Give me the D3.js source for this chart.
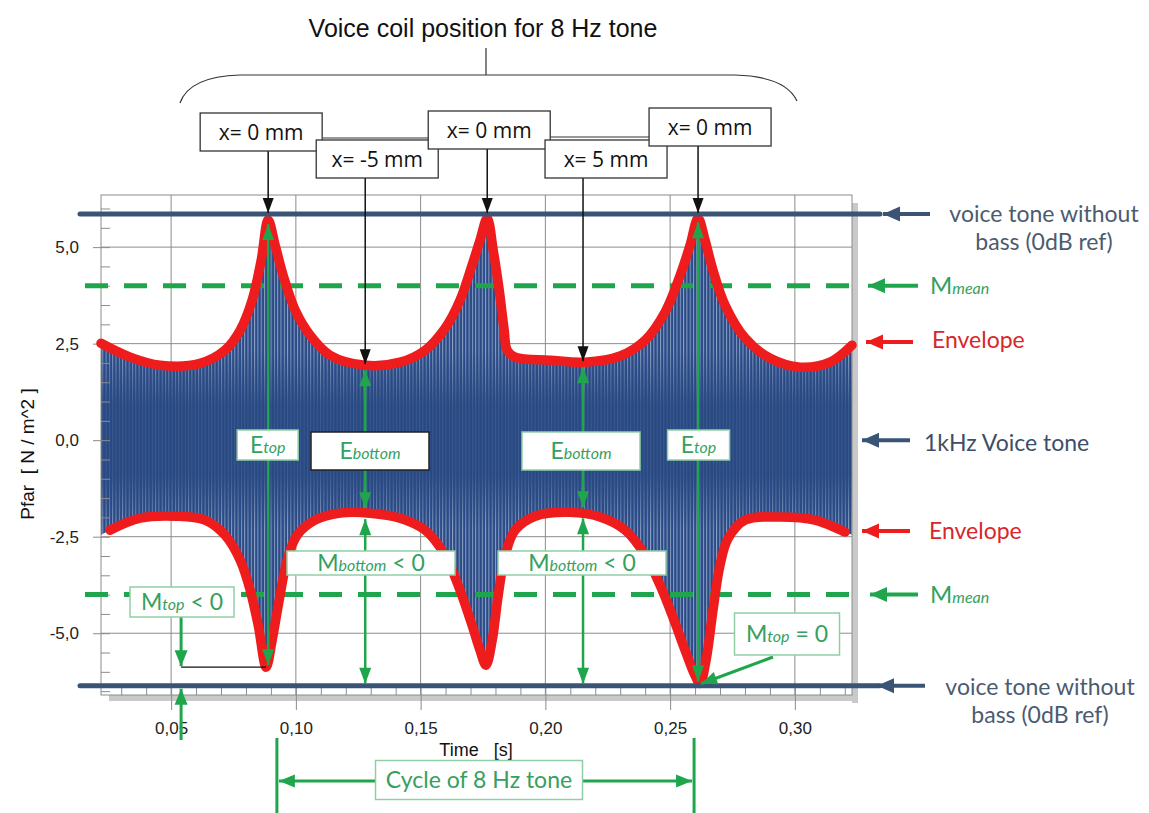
<!DOCTYPE html>
<html>
<head>
<meta charset="utf-8">
<script src="https://cdn.jsdelivr.net/npm/d3@7"></script>
<style>
  body { margin: 0; background: #fff; }
  svg text { font-family: "Liberation Sans", Arial, sans-serif; }
</style>
</head>
<body>
<svg id="chart" width="1149" height="813"></svg>
<script>
// ---- data ----
// upper envelope of the 1 kHz tone (time in s, pressure in N/m^2)
var upperTime = [0.0219, 0.0336, 0.0456, 0.0616, 0.0716, 0.0777, 0.0825, 0.0861, 0.0889, 0.0917, 0.0949, 0.0997,
  0.1057, 0.1137, 0.1278, 0.1418, 0.1518, 0.1598, 0.1658, 0.1706, 0.1738, 0.1767, 0.1791, 0.1815, 0.1835, 0.1847,
  0.1879, 0.2019, 0.2159, 0.2300, 0.2400, 0.2480, 0.2540, 0.2580, 0.2612, 0.2640, 0.2672, 0.2720, 0.2801, 0.2901,
  0.3021, 0.3141, 0.3229];
var upperVal = [2.51, 2.15, 1.94, 1.99, 2.33, 2.85, 3.63, 4.66, 5.70, 5.05, 4.27, 3.37,
  2.72, 2.20, 1.94, 2.02, 2.33, 2.90, 3.63, 4.53, 5.18, 5.75, 4.92, 3.89, 2.85, 2.33,
  2.15, 2.07, 2.02, 2.18, 2.59, 3.32, 4.27, 5.05, 5.75, 5.18, 4.40, 3.50, 2.64, 2.12,
  1.89, 2.02, 2.46];
// lower envelope
var lowerTime = [0.0219, 0.0255, 0.0376, 0.0516, 0.0636, 0.0716, 0.0777, 0.0817, 0.0849, 0.0881, 0.0905, 0.0933,
  0.0965, 0.1005, 0.1077, 0.1177, 0.1298, 0.1418, 0.1518, 0.1598, 0.1658, 0.1706, 0.1738, 0.1762, 0.1787, 0.1811,
  0.1839, 0.1879, 0.1959, 0.2099, 0.2219, 0.2320, 0.2400, 0.2460, 0.2508, 0.2560, 0.2596, 0.2620, 0.2644, 0.2672,
  0.2700, 0.2733, 0.2801, 0.2941, 0.3081, 0.3201, 0.3229];
var lowerVal = [-2.45, -2.33, -2.02, -1.97, -2.07, -2.46, -3.11, -3.89, -4.79, -5.88, -5.18, -4.15,
  -3.11, -2.46, -2.07, -1.89, -1.89, -2.02, -2.33, -2.98, -3.89, -4.79, -5.44, -5.83, -5.18, -4.02,
  -2.98, -2.33, -1.97, -1.87, -1.99, -2.33, -2.98, -3.76, -4.53, -5.44, -6.04, -6.30, -5.70, -4.40,
  -3.24, -2.54, -2.07, -1.99, -2.07, -2.38, -2.45];

var xTicks = [0.05, 0.10, 0.15, 0.20, 0.25, 0.30];
var yTicks = [-5, -2.5, 0, 2.5, 5];

// voice coil positions
var positionTimes = [0.0889, 0.1278, 0.1767, 0.2151, 0.2612];
var positionLabels = ['x= 0 mm', 'x= -5 mm', 'x= 0 mm', 'x= 5 mm', 'x= 0 mm'];
var positionTargets = [5.86, 1.94, 5.86, 2.02, 5.86];

// reference levels
var refLevels = [5.86, -6.36];      // voice tone without bass
var meanLevels = [4.0, -4.0];       // M mean
var eTopSpan = [[5.70, -5.88], [5.75, -6.30]];
var eBottomSpan = [[1.94, -1.89], [2.02, -1.87]];
var cycleTimes = [0.0924, 0.2596];
var mTopTime = 0.054;

// ---- layout ----
var svg = d3.select('#chart');
var pL = 101, pR = 852, pT = 195, pB = 695;

var x = d3.scaleLinear().domain([0.0219, 0.3229]).range([pL, pR]);
var y = d3.scaleLinear().domain([-6.6, 6.35]).range([pB, pT]);

var GREEN = '#1fa64c', GREEN_TXT = '#35a060', RED = '#ee1c1c', NAVY = '#3a5476', BLACK = '#111';

function arrowHead(g, xt, yt, ang, len, w, color) {
  g.append('path')
    .attr('d', 'M0,0 L' + (-len) + ',' + (-w / 2) + ' L' + (-len) + ',' + (w / 2) + ' Z')
    .attr('transform', 'translate(' + xt + ',' + yt + ') rotate(' + ang + ')')
    .attr('fill', color);
}

// line from (x1,y1) to (x2,y2) with a head at the end (and at the start if both)
function arrow(g, x1, y1, x2, y2, o) {
  var ang = Math.atan2(y2 - y1, x2 - x1) * 180 / Math.PI;
  g.append('line')
    .attr('x1', x1).attr('y1', y1).attr('x2', x2).attr('y2', y2)
    .attr('stroke', o.color).attr('stroke-width', o.width);
  arrowHead(g, x2, y2, ang, o.len, o.w, o.color);
  if (o.both) arrowHead(g, x1, y1, ang + 180, o.len, o.w, o.color);
}

// ---- title and brace ----
svg.append('text')
  .attr('x', 483).attr('y', 37)
  .attr('text-anchor', 'middle')
  .style('font-size', '25px')
  .attr('fill', '#111')
  .text('Voice coil position for 8 Hz tone');

svg.append('path')
  .attr('d', 'M180,103 C186,86 204,76 240,75 L735,75 C770,76 790,86 797,101 M486,48 L486,75')
  .attr('fill', 'none').attr('stroke', '#333').attr('stroke-width', 1.2);

// ---- plot frame, shadow and grid ----
svg.append('rect')
  .attr('x', pR).attr('y', pT + 8).attr('width', 6).attr('height', pB - pT)
  .attr('fill', '#c9c9c9');
svg.append('rect')
  .attr('x', pL + 8).attr('y', pB).attr('width', pR - pL - 2).attr('height', 6)
  .attr('fill', '#c9c9c9');
svg.append('rect')
  .attr('x', pL).attr('y', pT).attr('width', pR - pL).attr('height', pB - pT)
  .attr('fill', '#fff');

var grid = svg.append('g').attr('stroke', '#8c8c8c').attr('stroke-width', 1);
grid.selectAll('.gx').data(xTicks).enter().append('line')
  .attr('x1', d => x(d)).attr('x2', d => x(d)).attr('y1', pT).attr('y2', pB);
grid.selectAll('.gy').data(yTicks).enter().append('line')
  .attr('x1', pL).attr('x2', pR).attr('y1', d => y(d)).attr('y2', d => y(d));

// ---- 1 kHz voice tone (filled between envelopes) ----
var defs = svg.append('defs');
defs.append('clipPath').attr('id', 'plotClip').append('rect')
  .attr('x', pL).attr('y', pT).attr('width', pR - pL).attr('height', pB - pT);
var pat = defs.append('pattern').attr('id', 'tone')
  .attr('patternUnits', 'userSpaceOnUse').attr('width', 3.3).attr('height', 813);
pat.append('rect').attr('width', 3.3).attr('height', 813).attr('fill', '#2b4b86');
pat.append('rect').attr('width', 1).attr('height', 813).attr('fill', '#ccd8ee').attr('opacity', 0.6);

// darker core of the tone around 0
var core = defs.append('linearGradient').attr('id', 'core')
  .attr('gradientUnits', 'userSpaceOnUse')
  .attr('x1', 0).attr('x2', 0).attr('y1', y(2.3)).attr('y2', y(-2.3));
[[0, 0], [0.3, 0.8], [0.7, 0.8], [1, 0]].forEach(function (s) {
  core.append('stop').attr('offset', s[0]).attr('stop-color', '#284882').attr('stop-opacity', s[1]);
});

var upper = upperTime.map((t, i) => ({ t: t, v: upperVal[i] }));
var lower = lowerTime.map((t, i) => ({ t: t, v: lowerVal[i] }));

var line = d3.line().x(d => x(d.t)).y(d => y(d.v)).curve(d3.curveCatmullRom.alpha(0.5));
var bandPath = line(upper) + 'L' + line(lower.slice().reverse()).slice(1) + 'Z';

var plot = svg.append('g').attr('clip-path', 'url(#plotClip)');
plot.append('path').attr('d', bandPath).attr('fill', 'url(#tone)');
plot.append('path').attr('d', bandPath).attr('fill', 'url(#core)');

// ---- frame border and axes ----
svg.append('rect')
  .attr('x', pL).attr('y', pT).attr('width', pR - pL).attr('height', pB - pT)
  .attr('fill', 'none').attr('stroke', '#8c8c8c').attr('stroke-width', 1);

var fmt = d => d.toFixed(2).replace('.', ',');
var xAxis = svg.append('g')
  .attr('transform', 'translate(0,' + pB + ')')
  .call(d3.axisBottom(x).tickValues(xTicks).tickSize(15).tickPadding(12).tickFormat(fmt));
var xMinor = svg.append('g')
  .attr('transform', 'translate(0,' + pB + ')')
  .call(d3.axisTop(x).tickValues(d3.range(3, 33).map(d => d / 100)).tickSize(7).tickFormat(''));
var yAxis = svg.append('g')
  .attr('transform', 'translate(' + pL + ',0)')
  .call(d3.axisLeft(y).tickValues(yTicks).tickSize(8).tickPadding(14).tickFormat(d => d.toFixed(1).replace('.', ',')));
var yMinor = svg.append('g')
  .attr('transform', 'translate(' + pL + ',0)')
  .call(d3.axisRight(y).tickValues(d3.range(-13, 13).map(d => d / 2)).tickSize(9).tickFormat(''));

[xAxis, xMinor, yAxis, yMinor].forEach(function (a) {
  a.select('.domain').remove();
  a.selectAll('line').attr('stroke', '#8c8c8c');
  a.selectAll('text').style('font-size', '17px').attr('fill', '#222')
    .style('font-family', '"Liberation Sans", Arial, sans-serif');
});

svg.append('text')
  .attr('x', 476).attr('y', 756)
  .attr('text-anchor', 'middle')
  .style('font-size', '18px').attr('fill', '#111')
  .style('white-space', 'pre')
  .text('Time   [s]');

svg.append('text')
  .attr('transform', 'translate(34,454) rotate(-90)')
  .attr('text-anchor', 'middle')
  .style('font-size', '19px').attr('fill', '#111')
  .style('white-space', 'pre')
  .text('Pfar  [ N / m^2 ]');

// ---- M mean dashed lines ----
svg.selectAll('.mean').data(meanLevels).enter().append('line')
  .attr('x1', 85).attr('x2', pR)
  .attr('y1', d => y(d)).attr('y2', d => y(d))
  .attr('stroke', GREEN).attr('stroke-width', 5)
  .attr('stroke-dasharray', '23,16');

// ---- red envelopes ----
svg.append('path').attr('d', line(upper))
  .attr('fill', 'none').attr('stroke', RED).attr('stroke-width', 9.5)
  .attr('stroke-linecap', 'round').attr('stroke-linejoin', 'round');
svg.append('path').attr('d', line(lower.filter(d => d.t > 0.025 && d.t < 0.321)))
  .attr('fill', 'none').attr('stroke', RED).attr('stroke-width', 9.5)
  .attr('stroke-linecap', 'round').attr('stroke-linejoin', 'round');

// ---- reference lines (voice tone without bass) ----
svg.selectAll('.ref').data(refLevels).enter().append('line')
  .attr('x1', 80).attr('x2', 880)
  .attr('y1', d => y(d)).attr('y2', d => y(d))
  .attr('stroke', NAVY).attr('stroke-width', 5).attr('stroke-linecap', 'round');

// ---- green measurement arrows ----
var ga = svg.append('g');
var gOpt = { color: GREEN, width: 2.5, len: 16, w: 12, both: true };
eTopSpan.forEach(function (s, i) {
  var t = positionTimes[i === 0 ? 0 : 4];
  arrow(ga, x(t), y(s[0]) + 4, x(t), y(s[1]) - 2, gOpt);
});
eBottomSpan.forEach(function (s, i) {
  var t = positionTimes[i === 0 ? 1 : 3];
  arrow(ga, x(t), y(s[0]) + 5, x(t), y(s[1]) - 5, gOpt);
  arrow(ga, x(t), y(s[1]) + 6, x(t), y(refLevels[1]) - 2, gOpt);
});

// M top < 0
var mx = x(mTopTime);
svg.append('line')
  .attr('x1', mx).attr('x2', x(positionTimes[0]) - 2)
  .attr('y1', y(lowerVal[9])).attr('y2', y(lowerVal[9]))
  .attr('stroke', BLACK).attr('stroke-width', 1.3);
arrow(ga, mx, 617, mx, y(lowerVal[9]) - 1, { color: GREEN, width: 3, len: 16, w: 13 });
arrow(ga, mx, 740, mx, y(refLevels[1]) + 3, { color: GREEN, width: 3, len: 16, w: 13 });
// M top = 0
arrow(ga, 773, 657, x(positionTimes[4]) + 3, y(refLevels[1]) - 2, { color: GREEN, width: 3, len: 16, w: 13 });

// cycle of 8 Hz tone
cycleTimes.forEach(function (t) {
  ga.append('line').attr('x1', x(t)).attr('x2', x(t)).attr('y1', 738).attr('y2', 813)
    .attr('stroke', GREEN).attr('stroke-width', 3);
});
arrow(ga, x(cycleTimes[0]) + 2, 781, x(cycleTimes[1]) - 2, 781, { color: GREEN, width: 3, len: 16, w: 13, both: true });

// ---- green label boxes ----
function greenBox(cx, cy, w, h, parts, stroke) {
  var g = svg.append('g');
  g.append('rect')
    .attr('x', cx - w / 2).attr('y', cy - h / 2).attr('width', w).attr('height', h)
    .attr('fill', '#fff').attr('stroke', stroke || '#8fcfa5').attr('stroke-width', 1.5);
  var t = g.append('text')
    .attr('x', cx).attr('y', cy + 8)
    .attr('text-anchor', 'middle')
    .attr('fill', GREEN_TXT)
    .style('font-family', 'Lato, "Open Sans", sans-serif')
    .style('white-space', 'pre');
  parts.forEach(function (p) {
    t.append('tspan').text(p[0])
      .style('font-size', p[1] + 'px')
      .style('font-style', p[2] ? 'italic' : 'normal');
  });
}
greenBox(x(positionTimes[0]) - 0.5, 445, 61, 30, [['E', 23], ['top', 16, true]]);
greenBox(x(positionTimes[4]) + 0.5, 445, 62, 30, [['E', 23], ['top', 16, true]]);
greenBox(370, 451, 118, 38, [['E', 23], ['bottom', 16, true]], '#222');
greenBox(581, 451, 118, 38, [['E', 23], ['bottom', 16, true]]);
greenBox(371, 563, 168, 24, [['M', 23], ['bottom', 16, true], [' < 0', 23]]);
greenBox(582, 563, 168, 24, [['M', 23], ['bottom', 16, true], [' < 0', 23]]);
greenBox(182, 602, 104, 30, [['M', 23], ['top', 16, true], [' < 0', 23]]);
greenBox(787, 634, 105, 42, [['M', 23], ['top', 16, true], [' = 0', 23]]);
greenBox(479, 780, 207, 39, [['Cycle of 8 Hz tone', 23]]);

// ---- voice coil position boxes and black arrows ----
var boxOffset = [-7, 12, 2, 23, 12];
var boxTop = [113, 140, 111, 140, 108];
var ba = svg.append('g');
// connecting lines between the 0 mm boxes
ba.append('path')
  .attr('d', 'M323,138 L430,138 M551,137 L650,137')
  .attr('stroke', '#333').attr('stroke-width', 1.2).attr('fill', 'none');
positionTimes.forEach(function (t, i) {
  var cx = x(t) + boxOffset[i];
  arrow(ba, x(t), boxTop[i] + 38, x(t), y(positionTargets[i]) - 1, { color: BLACK, width: 1.5, len: 15, w: 11 });
  ba.append('rect')
    .attr('x', cx - 61).attr('y', boxTop[i]).attr('width', 122).attr('height', 38)
    .attr('fill', '#fff').attr('stroke', '#333').attr('stroke-width', 1.3);
  ba.append('text')
    .attr('x', cx).attr('y', boxTop[i] + 27)
    .attr('text-anchor', 'middle')
    .style('font-family', '"Open Sans", sans-serif')
    .style('font-size', '21px').attr('fill', '#111')
    .text(positionLabels[i]);
});

// ---- right-hand labels ----
var rightNotes = [
  { v: refLevels[0], color: NAVY, tip: 883, tail: 930 },
  { v: meanLevels[0], color: GREEN, tip: 868, tail: 918 },
  { v: upperVal[upperVal.length - 1] + 0.08, color: RED, tip: 866, tail: 913 },
  { v: 0, color: NAVY, tip: 862, tail: 910 },
  { v: lowerVal[lowerVal.length - 1] + 0.1, color: RED, tip: 862, tail: 910 },
  { v: meanLevels[1], color: GREEN, tip: 870, tail: 918 },
  { v: refLevels[1], color: NAVY, tip: 877, tail: 925 }
];
rightNotes.forEach(function (n) {
  arrow(svg, n.tail, y(n.v), n.tip, y(n.v), { color: n.color, width: 4, len: 17, w: 15 });
});

function note(xp, yp, txt, color, anchor) {
  return svg.append('text')
    .attr('x', xp).attr('y', yp)
    .attr('text-anchor', anchor || 'start')
    .attr('fill', color)
    .style('font-family', 'Lato, "Open Sans", sans-serif')
    .style('font-size', '23px')
    .text(txt);
}
note(1044, y(refLevels[0]) + 8, 'voice tone without', '#4b5b70', 'middle');
note(1044, y(refLevels[0]) + 36, 'bass (0dB ref)', '#4b5b70', 'middle');
note(1040, y(refLevels[1]) + 9, 'voice tone without', '#4b5b70', 'middle');
note(1040, y(refLevels[1]) + 37, 'bass (0dB ref)', '#4b5b70', 'middle');
note(932, y(upperVal[upperVal.length - 1]) + 3, 'Envelope', '#d8262b');
note(929, y(lowerVal[lowerVal.length - 1]) + 4, 'Envelope', '#d8262b');
note(924, y(0) + 11, '1kHz Voice tone', '#3e4e66');
meanLevels.forEach(function (m) {
  var t = note(930, y(m) + 8, '', GREEN_TXT);
  t.append('tspan').text('M').style('font-size', '24px');
  t.append('tspan').text('mean').style('font-size', '16px').style('font-style', 'italic');
});
</script>
</body>
</html>
